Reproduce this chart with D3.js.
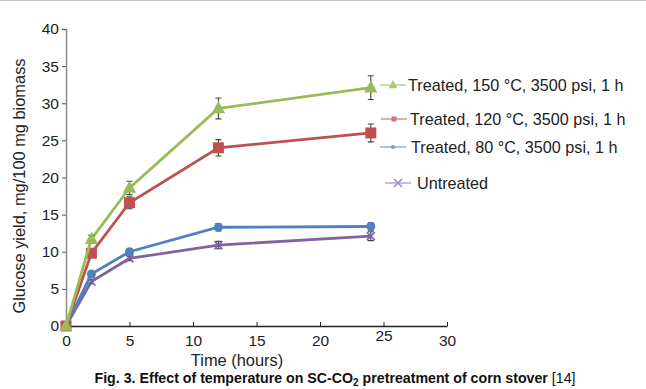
<!DOCTYPE html>
<html><head><meta charset="utf-8">
<script src="https://cdn.jsdelivr.net/npm/d3@7"></script>
<style>body{margin:0;background:#fff}svg{display:block}</style>
</head><body>
<svg id="c" width="646" height="389"></svg>
<script>
const times = [0, 2, 5, 12, 24];
const seriesNames = ["Treated, 150 °C, 3500 psi, 1 h","Treated, 120 °C, 3500 psi, 1 h","Treated, 80 °C, 3500 psi, 1 h","Untreated"];
const t150 = [0, 11.7, 18.6, 29.3, 32.1];
const t150err = [0, 0.5, 0.9, 1.4, 1.6];
const t120 = [0, 9.8, 16.6, 24.0, 26.0];
const t120err = [0, 0.3, 0.8, 1.1, 1.2];
const t80 = [0, 7.0, 10.0, 13.3, 13.4];
const t80err = [0, 0.3, 0.3, 0.5, 0.5];
const untreated = [0, 6.0, 9.1, 10.9, 12.1];
const untreatedErr = [0, 0.3, 0.3, 0.5, 0.6];
const xTicks = [0,5,10,15,20,25,30];
const yTicks = [0,5,10,15,20,25,30,35,40];

const svg = d3.select("#c");
const font = "Liberation Sans, Arial, sans-serif";
svg.append("line").attr("x1",0).attr("x2",646).attr("y1",0.5).attr("y2",0.5).attr("stroke","#c4c4c4");

const x = d3.scaleLinear().domain([0,30]).range([66,447]);
const y = d3.scaleLinear().domain([0,40]).range([326,29]);

// y axis
const ya = svg.append("g").attr("transform","translate(66,0)")
  .call(d3.axisLeft(y).tickValues(yTicks).tickSize(4).tickPadding(3));
ya.select(".domain").attr("stroke","#8a8a8a").attr("stroke-width",1.5);
ya.selectAll(".tick line").attr("stroke","#555");
ya.selectAll("text").attr("font-family",font).attr("font-size",15.5).attr("fill","#222");

const series = [
  {v:t150,e:t150err,c:"#9bbb59",lc:"#a9c96a",m:"tri"},
  {v:t120,e:t120err,c:"#c0504d",lc:"#d07270",m:"sq"},
  {v:t80,e:t80err,c:"#4f81bd",lc:"#6fa0cf",m:"dot"},
  {v:untreated,e:untreatedErr,c:"#8064a2",lc:"#a48cc0",m:"x"}
];

// x axis
const xa = svg.append("g").attr("transform","translate(0,326)")
  .call(d3.axisBottom(x).tickValues(xTicks).tickSizeInner(-4).tickSizeOuter(0).tickPadding(9));
xa.select(".domain").attr("stroke","#222").attr("stroke-width",1.5);
xa.selectAll(".tick line").attr("stroke","#222");
xa.selectAll("text").attr("font-family",font).attr("font-size",15.5).attr("fill","#222")
  .attr("dy", d => d===25 ? "0.4em" : "0.71em");

function marker(g, type, cx, cy, color, s) {
  if (type==="tri") {
    g.append("path").attr("d",`M${cx},${cy-s*0.62}L${cx+s*0.55},${cy+s*0.4}L${cx-s*0.55},${cy+s*0.4}Z`).attr("fill",color);
  } else if (type==="sq") {
    g.append("rect").attr("x",cx-s/2).attr("y",cy-s/2).attr("width",s).attr("height",s).attr("fill",color);
  } else if (type==="dot") {
    g.append("circle").attr("cx",cx).attr("cy",cy).attr("r",s/2).attr("fill",color);
  } else {
    const h=s/2;
    g.append("path").attr("d",`M${cx-h},${cy-h}L${cx+h},${cy+h}M${cx-h},${cy+h}L${cx+h},${cy-h}`).attr("stroke",color).attr("stroke-width",1.6);
  }
}
const sizes = {tri:12, sq:11, dot:9, x:8};
[3,2,1,0].forEach(i => {
  const s = series[i];
  const g = svg.append("g");
  const pts = times.map((t,k)=>[x(t), y(s.v[k])]);
  g.append("path").attr("d", d3.line()(pts)).attr("fill","none").attr("stroke",s.c).attr("stroke-width",2.8);
  times.forEach((t,k)=>{
    if (s.e[k]>0) {
      const cx=x(t), y1=y(s.v[k]+s.e[k]), y2=y(s.v[k]-s.e[k]);
      g.append("path").attr("d",`M${cx},${y1}V${y2}M${cx-3},${y1}H${cx+3}M${cx-3},${y2}H${cx+3}`)
        .attr("stroke","#444").attr("stroke-width",1.1).attr("fill","none");
    }
    marker(g, s.m, x(t), y(s.v[k]), s.c, sizes[s.m]);
  });
});

// legend
const legY = [85, 119, 147, 183];
const legX0 = [380, 381, 380, 385];
const legTx = [408, 410, 411, 417];
const legSizes = {tri:8, sq:5, dot:4, x:8};
series.forEach((s,i)=>{
  const g = svg.append("g");
  g.append("line").attr("x1",legX0[i]).attr("x2",legX0[i]+26).attr("y1",legY[i]).attr("y2",legY[i]).attr("stroke",s.lc).attr("stroke-width",1.2);
  marker(g, s.m, legX0[i]+13, legY[i], s.lc, legSizes[s.m]);
  g.append("text").attr("x",legTx[i]).attr("y",legY[i]).attr("dy","0.35em")
    .attr("font-family",font).attr("font-size",16.2).attr("fill","#222").text(seriesNames[i]);
});

// axis titles
svg.append("text").attr("transform","translate(25,186) rotate(-90)").attr("text-anchor","middle")
  .attr("font-family",font).attr("font-size",16.4).attr("fill","#222").text("Glucose yield, mg/100 mg biomass");
svg.append("text").attr("x",237).attr("y",366).attr("text-anchor","middle")
  .attr("font-family",font).attr("font-size",16.4).attr("fill","#222").text("Time (hours)");

// caption
const cap = svg.append("text").attr("x",335).attr("y",383).attr("text-anchor","middle")
  .attr("font-family",font).attr("font-size",14.2).attr("fill","#111");
cap.append("tspan").attr("font-weight","bold").text("Fig. 3. Effect of temperature on SC-CO");
cap.append("tspan").attr("font-weight","bold").attr("font-size",10).attr("dy",2.5).text("2");
cap.append("tspan").attr("font-weight","bold").attr("dy",-2.5).text(" pretreatment of corn stover ");
cap.append("tspan").text("[14]");
</script>
</body></html>
